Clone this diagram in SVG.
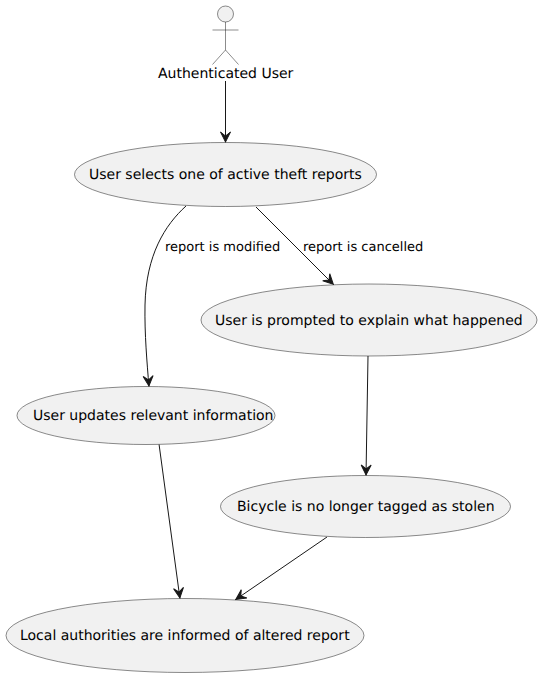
<svg xmlns="http://www.w3.org/2000/svg" width="541" height="680" viewBox="0 0 541 680">
<style>
.n{fill:#f1f1f1;stroke:#181818;stroke-width:.5}
.a{fill:none;stroke:#181818;stroke-width:1}
.t{font-family:"DejaVu Sans",sans-serif;font-size:14px;fill:#000;text-rendering:geometricPrecision}
.l{font-family:"DejaVu Sans",sans-serif;font-size:13px;fill:#000;text-rendering:geometricPrecision}
</style>
<defs>
<marker id="h" markerUnits="userSpaceOnUse" markerWidth="12" markerHeight="12" refX="11" refY="5" orient="auto" viewBox="0 0 12 10" overflow="visible"><path d="M0 0L10 5L0 10L4 5Z" fill="#181818" stroke="#181818"/></marker>
</defs>
<rect width="541" height="680" fill="#fff"/>
<g id="connectors">
<path class="a" marker-end="url(#h)" d="M225.500 81V143"/>
<path class="a" marker-end="url(#h)" d="M186 206C165 225 146 255 145 305C144.500 335 147 362 149 387"/>
<path class="a" marker-end="url(#h)" d="M256 207L334 285"/>
<path class="a" marker-end="url(#h)" d="M368 356L366 476"/>
<path class="a" marker-end="url(#h)" d="M159 444L180 599"/>
<path class="a" marker-end="url(#h)" d="M327 537L235 600"/>
<text class="l" x="165" y="251">report is modified</text>
<text class="l" x="303" y="251">report is cancelled</text>
</g>
<g id="actor" fill="#f1f1f1" stroke="#181818" stroke-width=".5">
<circle cx="225.500" cy="14" r="8"/>
<path fill="none" d="M225.500 22V50M212.500 30H238.500M225.500 50L212.500 64.500M225.500 50L238.500 64.500"/>
<text class="t" x="158" y="78" stroke="none" fill="#000">Authenticated User</text>
</g>
<g id="n1"><ellipse class="n" cx="225.500" cy="174.500" rx="151" ry="32"/><text class="t" x="89" y="179">User selects one of active theft reports</text></g>
<g id="n2"><ellipse class="n" cx="369" cy="320" rx="168" ry="36"/><text class="t" x="215" y="325">User is prompted to explain what happened</text></g>
<g id="n3"><ellipse class="n" cx="146" cy="415.500" rx="129" ry="29"/><text class="t" x="33" y="420">User updates relevant information</text></g>
<g id="n4"><ellipse class="n" cx="365.500" cy="506.500" rx="145" ry="31"/><text class="t" x="237" y="511">Bicycle is no longer tagged as stolen</text></g>
<g id="n5"><ellipse class="n" cx="185" cy="635.500" rx="179" ry="37"/><text class="t" x="20" y="640">Local authorities are informed of altered report</text></g>
</svg>
